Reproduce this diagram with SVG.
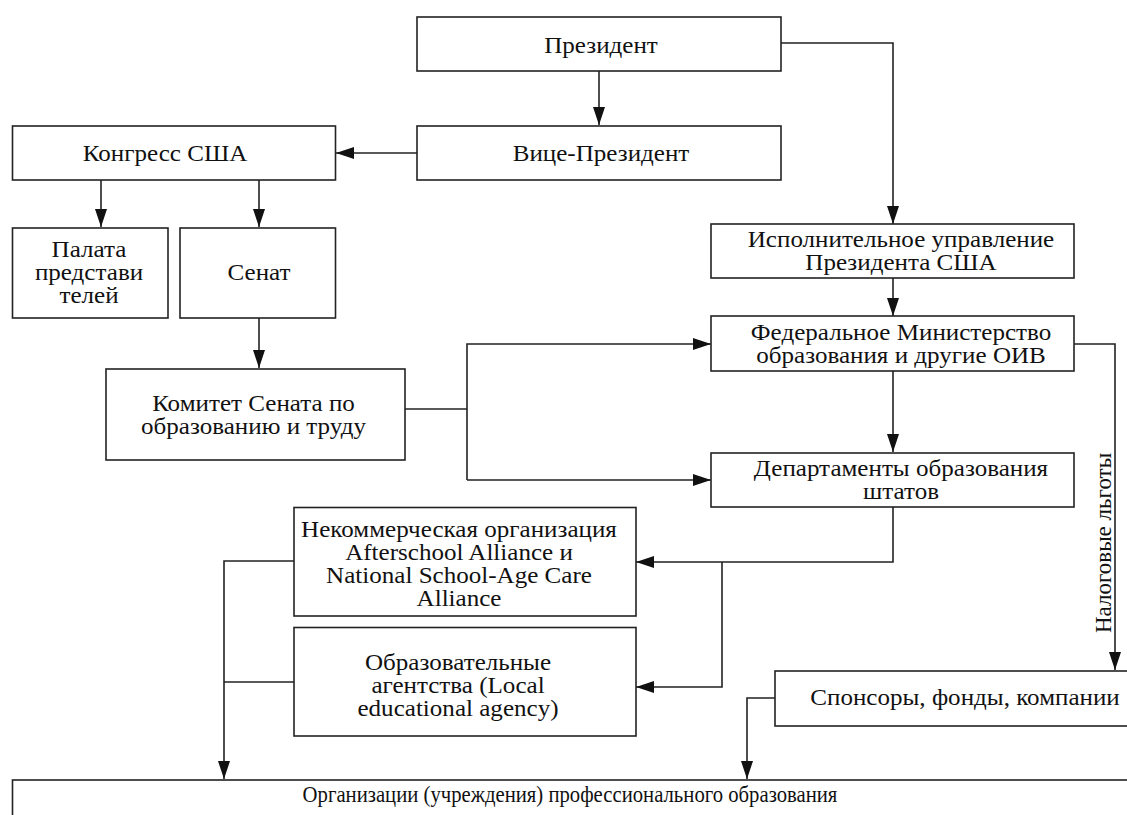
<svg xmlns="http://www.w3.org/2000/svg" width="1127" height="815" viewBox="0 0 1127 815">
<style>
.box{fill:#fff;stroke:#222;stroke-width:1.6}
.t{font-family:"Liberation Serif","Times New Roman",serif;font-size:23px;fill:#111;text-anchor:middle}
.c{fill:none;stroke:#222;stroke-width:1.6}
</style>
<defs>
<marker id="ah" markerUnits="userSpaceOnUse" markerWidth="18" markerHeight="12" refX="18" refY="6" orient="auto">
<path d="M0,0 L18,6 L0,12 Z" fill="#111"/>
</marker>
</defs>
<rect width="1127" height="815" fill="#fff"/>
<g id="connectors">
<path class="c" d="M599,71 V125" marker-end="url(#ah)"/>
<path class="c" d="M417,153 H336" marker-end="url(#ah)"/>
<path class="c" d="M101,180 V227" marker-end="url(#ah)"/>
<path class="c" d="M259,180 V227" marker-end="url(#ah)"/>
<path class="c" d="M259,318 V368" marker-end="url(#ah)"/>
<path class="c" d="M781,43 H893 V224" marker-end="url(#ah)"/>
<path class="c" d="M893,278 V316" marker-end="url(#ah)"/>
<path class="c" d="M893,371 V452" marker-end="url(#ah)"/>
<path class="c" d="M405,409 H467"/>
<path class="c" d="M467,480 V344 H711" marker-end="url(#ah)"/>
<path class="c" d="M467,480 H711" marker-end="url(#ah)"/>
<path class="c" d="M1074,344 H1115 V670" marker-end="url(#ah)"/>
<path class="c" d="M893,507 V562 H636" marker-end="url(#ah)"/>
<path class="c" d="M722,562 V687 H636" marker-end="url(#ah)"/>
<path class="c" d="M294,561 H224 V779" marker-end="url(#ah)"/>
<path class="c" d="M294,682 H224"/>
<path class="c" d="M775,698 H747 V779" marker-end="url(#ah)"/>
<text class="t" transform="translate(1111,543) rotate(-90)">Налоговые льготы</text>
</g>
<g id="president"><rect class="box" x="417" y="17" width="364" height="54"/><text class="t" transform="translate(601,53) scale(1.09,1)">Президент</text></g>
<g id="vice-president"><rect class="box" x="417" y="126" width="364" height="54"/><text class="t" transform="translate(601,161) scale(1.09,1)">Вице-Президент</text></g>
<g id="congress"><rect class="box" x="12.5" y="126" width="323" height="54"/><text class="t" transform="translate(165,161) scale(1.09,1)">Конгресс США</text></g>
<g id="house"><rect class="box" x="12.5" y="228" width="155.5" height="90"/><text class="t" transform="translate(89,257) scale(1.09,1)">Палата</text><text class="t" transform="translate(89,280) scale(1.09,1)">представи</text><text class="t" transform="translate(89,303) scale(1.09,1)">телей</text></g>
<g id="senate"><rect class="box" x="180" y="228" width="155.5" height="90"/><text class="t" transform="translate(259,280) scale(1.09,1)">Сенат</text></g>
<g id="committee"><rect class="box" x="106" y="369" width="299" height="91"/><text class="t" transform="translate(253.5,411) scale(1.09,1)">Комитет Сената по</text><text class="t" transform="translate(253.5,434) scale(1.09,1)">образованию и труду</text></g>
<g id="exec-office"><rect class="box" x="711" y="224" width="363" height="54"/><text class="t" transform="translate(901,247) scale(1.09,1)">Исполнительное управление</text><text class="t" transform="translate(901,270) scale(1.09,1)">Президента США</text></g>
<g id="ministry"><rect class="box" x="711" y="316" width="363" height="55"/><text class="t" transform="translate(901,340) scale(1.09,1)">Федеральное Министерство</text><text class="t" transform="translate(901,363) scale(1.09,1)">образования и другие ОИВ</text></g>
<g id="state-departments"><rect class="box" x="711" y="453" width="363" height="54"/><text class="t" transform="translate(901,476) scale(1.09,1)">Департаменты образования</text><text class="t" transform="translate(901,499) scale(1.09,1)">штатов</text></g>
<g id="nonprofit"><rect class="box" x="294" y="507.5" width="342" height="108.5"/><text class="t" transform="translate(459,537) scale(1.09,1)">Некоммерческая организация</text><text class="t" transform="translate(459,560) scale(1.09,1)">Afterschool Alliance и</text><text class="t" transform="translate(459,583) scale(1.09,1)">National School-Age Care</text><text class="t" transform="translate(459,606) scale(1.09,1)">Alliance</text></g>
<g id="local-agencies"><rect class="box" x="294" y="627.5" width="342" height="108.5"/><text class="t" transform="translate(458,670) scale(1.09,1)">Образовательные</text><text class="t" transform="translate(458,693) scale(1.09,1)">агентства (Local</text><text class="t" transform="translate(458,716) scale(1.09,1)">educational agency)</text></g>
<g id="sponsors"><rect class="box" x="775" y="671" width="360" height="55"/><text class="t" transform="translate(965,705) scale(1.09,1)">Спонсоры, фонды, компании</text></g>
<g id="vocational-orgs"><rect class="box" x="12.5" y="780" width="1125" height="50"/><text class="t" transform="translate(570,802) scale(0.9,1)">Организации (учреждения) профессионального образования</text></g>
</svg>
